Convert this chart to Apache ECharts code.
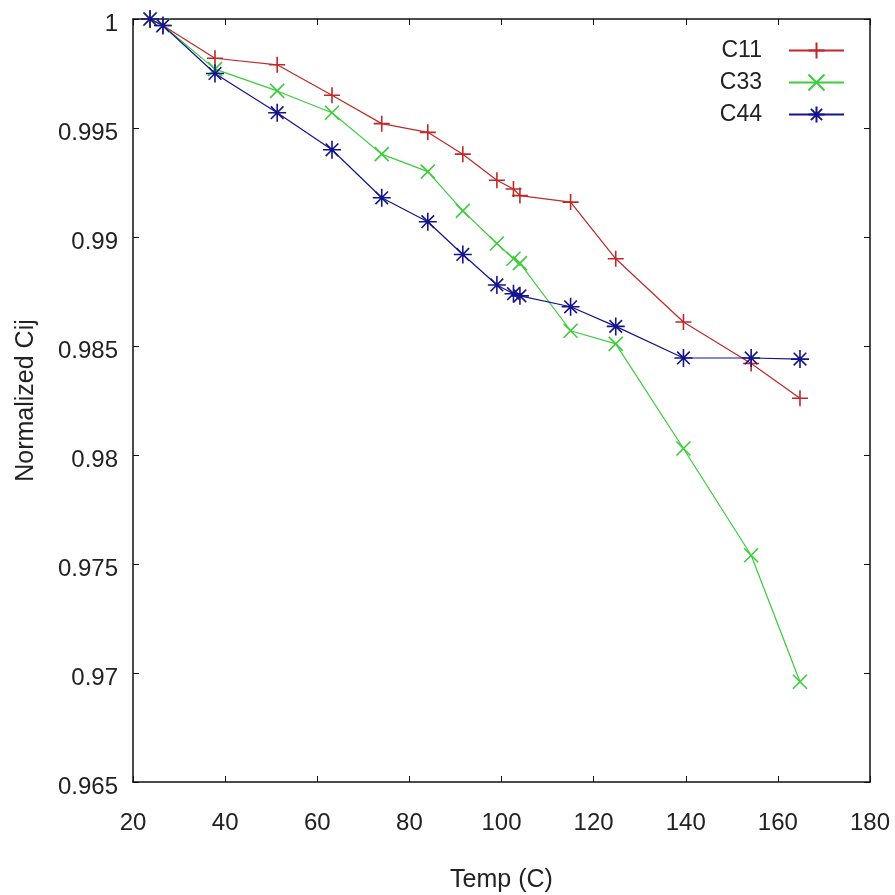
<!DOCTYPE html>
<html>
<head>
<meta charset="utf-8">
<script src="https://cdn.jsdelivr.net/npm/echarts@6/dist/echarts.min.js"></script>
<style>
  html, body { margin: 0; padding: 0; background: #fff; }
  #main { width: 895px; height: 895px; }
</style>
</head>
<body>
<div id="main"></div>
<script>
// temperatures (C) shared by all three curves
var temps = [23.7, 26.5, 37.8, 51.3, 63.2, 74.0, 84.0, 91.6, 99.0, 102.6, 104.0, 115.0, 124.8, 139.5, 154.2, 164.8];
var c11 = [1, 0.9997, 0.9982, 0.9979, 0.9965, 0.9952, 0.9948, 0.9938, 0.9926, 0.9922, 0.9919, 0.9916, 0.9890, 0.9861, 0.9842, 0.9826];
var c33 = [1, 0.9997, 0.9977, 0.9967, 0.9957, 0.9938, 0.9930, 0.9912, 0.9897, 0.9890, 0.9888, 0.9857, 0.9851, 0.9803, 0.9754, 0.9696];
var c44 = [1, 0.9997, 0.9975, 0.9957, 0.9940, 0.9918, 0.9907, 0.9892, 0.9878, 0.9874, 0.9873, 0.9868, 0.9859, 0.98445, 0.98445, 0.9844];
var xTicks = { min: 20, max: 180, step: 20 };
var yTicks = { min: 0.965, max: 1, step: 0.005 };

var plus = 'path://M0,5L10,5M5,0L5,10';
var cross = 'path://M0,0L10,10M10,0L0,10';
var star = 'path://M0,5L10,5M5,0L5,10M1.5,1.5L8.5,8.5M8.5,1.5L1.5,8.5';

function pairs(vals) {
    return temps.map(function (t, i) { return [t, vals[i]]; });
}

function makeSeries(name, vals, color, symbol, size) {
    return {
        name: name,
        type: 'line',
        data: pairs(vals),
        symbol: symbol,
        symbolSize: size,
        showAllSymbol: true,
        lineStyle: { color: color, width: 1.2 },
        itemStyle: { color: color, borderColor: color, borderWidth: 1.6 },
        emphasis: { disabled: true },
        animation: false
    };
}

var font = 'Liberation Sans, Arial, sans-serif';
var txt = '#222';

var chart = echarts.init(document.getElementById('main'));
chart.setOption({
    backgroundColor: '#fff',
    animation: false,
    grid: { left: 133, right: 25, top: 19, bottom: 113, outerBoundsMode: 'none' },
    legend: {
        right: 45,
        top: 34,
        orient: 'vertical',
        align: 'right',
        itemWidth: 55,
        itemHeight: 20,
        itemGap: 9,
        textStyle: { fontFamily: font, fontSize: 23, color: txt, lineHeight: 20, padding: [0, 22, 0, 0] },
        data: ['C11', 'C33', 'C44']
    },
    xAxis: [{
        type: 'value',
        min: xTicks.min, max: xTicks.max, interval: xTicks.step,
        name: 'Temp (C)',
        nameLocation: 'middle',
        nameGap: 86,
        nameTextStyle: { fontFamily: font, fontSize: 25, color: txt },
        axisLine: { lineStyle: { color: '#111', width: 1.5 } },
        axisTick: { inside: true, length: 6, lineStyle: { color: '#111' } },
        axisLabel: { margin: 29, fontFamily: font, fontSize: 24, color: txt },
        splitLine: { show: false }
    }, {
        type: 'value', position: 'top',
        min: xTicks.min, max: xTicks.max, interval: xTicks.step,
        axisLine: { lineStyle: { color: '#111', width: 1.5 } },
        axisTick: { inside: true, length: 6, lineStyle: { color: '#111' } },
        axisLabel: { show: false },
        splitLine: { show: false }
    }],
    yAxis: [{
        type: 'value',
        min: yTicks.min, max: yTicks.max, interval: yTicks.step,
        name: 'Normalized Cij',
        nameLocation: 'middle',
        nameGap: 94,
        nameTextStyle: { fontFamily: font, fontSize: 25, color: txt },
        axisLine: { show: true, lineStyle: { color: '#111', width: 1.5 } },
        axisTick: { show: true, inside: true, length: 6, lineStyle: { color: '#111' } },
        axisLabel: {
            margin: 15, color: txt,
            formatter: function (v) { return '{t|' + (+v.toFixed(3)) + '}'; },
            rich: { t: { fontFamily: font, fontSize: 24, color: txt, padding: [10, 0, 0, 0] } }
        },
        splitLine: { show: false }
    }, {
        type: 'value', position: 'right',
        min: yTicks.min, max: yTicks.max, interval: yTicks.step,
        axisLine: { show: true, lineStyle: { color: '#111', width: 1.5 } },
        axisTick: { show: true, inside: true, length: 6, lineStyle: { color: '#111' } },
        axisLabel: { show: false },
        splitLine: { show: false }
    }],
    series: [
        makeSeries('C11', c11, '#c02828', plus, 16),
        makeSeries('C33', c33, '#3ccc3c', cross, 14),
        makeSeries('C44', c44, '#14148c', star, 18)
    ]
});
</script>
</body>
</html>
